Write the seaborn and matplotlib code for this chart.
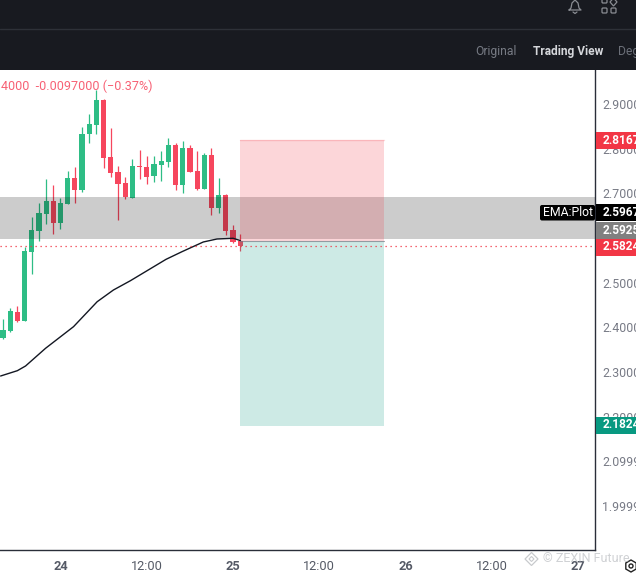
import matplotlib
matplotlib.use("Agg")
import matplotlib.pyplot as plt
import matplotlib.patches as mpatches
import pandas as pd
import seaborn as sns

# hourly candles, hour 0 = day 24 00:00
hours = list(range(-8, 26))
opens = [2.3769, 2.3918, 2.4343, 2.4149, 2.5686, 2.6157, 2.6537, 2.6828, 2.6336, 2.6761, 2.7343, 2.7075,
         2.8328, 2.8530, 2.9089, 2.7813, 2.7477, 2.7231, 2.6895, 2.7612, 2.7589, 2.7388, 2.7634, 2.7701,
         2.8082, 2.7186, 2.8015, 2.7500, 2.7097, 2.7858, 2.6671, 2.6962, 2.6179, 2.5933]
closes = [2.3940, 2.4366, 2.4149, 2.5709, 2.6179, 2.6559, 2.6828, 2.6336, 2.6783, 2.7343, 2.7075, 2.8328,
          2.8552, 2.9089, 2.7791, 2.7455, 2.7209, 2.6918, 2.7612, 2.7590, 2.7365, 2.7657, 2.7724, 2.8082,
          2.7186, 2.8015, 2.7477, 2.7097, 2.7858, 2.6671, 2.6962, 2.6157, 2.5910, 2.5821]
highs = [2.4186, 2.4433, 2.4478, 2.5806, 2.6477, 2.6783, 2.7321, 2.7186, 2.6895, 2.7500, 2.7589, 2.8485,
         2.8776, 2.9313, 2.9112, 2.8462, 2.7612, 2.7365, 2.7768, 2.7970, 2.7836, 2.7836, 2.7948, 2.8239,
         2.8127, 2.8172, 2.8082, 2.7948, 2.7903, 2.8015, 2.7343, 2.6985, 2.6291, 2.6089]
lows = [2.3739, 2.3895, 2.4127, 2.4149, 2.5194, 2.5933, 2.6313, 2.6089, 2.6201, 2.6761, 2.6783, 2.7030,
        2.8127, 2.8328, 2.7567, 2.7365, 2.6403, 2.6873, 2.6895, 2.7321, 2.7209, 2.7254, 2.7276, 2.7589,
        2.7075, 2.7007, 2.7477, 2.7075, 2.7097, 2.6515, 2.6559, 2.6067, 2.5888, 2.5709]

ema_hours = [-8.33, -6.0, -4.86, -2.08, 1.81, 5.1, 7.36, 9.72, 14.68, 16.9, 19.86, 21.76, 24, 25]
ema_prices = [2.2911, 2.3030, 2.3135, 2.3531, 2.4015, 2.4574, 2.4836, 2.5044, 2.5523, 2.5694, 2.5911, 2.5978,
              2.5994, 2.5944]

band_low, band_high = 2.5980, 2.6918
last_price = 2.5824
pos_hours = [25, 45]
pos_stop, pos_entry, pos_target = 2.8194, 2.5935, 2.1791

x_ticks = [0, 12, 24, 36, 48, 60, 72]
x_labels = ["24", "12:00", "25", "12:00", "26", "12:00", "27"]
y_ticks = [2.9, 2.8, 2.7, 2.6, 2.5, 2.4, 2.3, 2.2, 2.1, 2.0]
y_labels = ["2.9000", "2.8000", "2.7000", "2.6000", "2.5000", "2.4000", "2.3000", "2.2000", "2.0999", "1.9999"]

GREEN = "#2EBD85"
RED = "#F6465D"
DARK = "#181A20"
GRAY = "#787B86"

sns.set_theme(style="white")
plt.rcParams["font.family"] = ["Roboto", "DejaVu Sans"]

fig = plt.figure(figsize=(6.36, 5.75), dpi=100)
W, H = 636, 575

# main price pane, 0-595 px across and 70-550 px down
ax = fig.add_axes([0, (H - 550) / H, 595 / W, 480 / H])
candles = pd.DataFrame({"hour": hours, "open": opens, "close": closes, "high": highs, "low": lows})
candles["color"] = [GREEN if c >= o else RED for o, c in zip(opens, closes)]
candles["top"] = candles[["open", "close"]].max(axis=1)
candles["bottom"] = candles[["open", "close"]].min(axis=1)

ax.vlines(candles["hour"], candles["low"], candles["high"], colors=candles["color"], lw=0.9, zorder=2)
ax.bar(candles["hour"], (candles["top"] - candles["bottom"]).clip(lower=0.002), bottom=candles["bottom"],
       width=0.72, color=candles["color"], linewidth=0, zorder=3)

# position tool and the gray zone go over the candles
ax.axhspan(band_low, band_high, color="black", alpha=0.2, lw=0, zorder=4)
ax.fill_between(pos_hours, pos_entry, pos_stop, color="#F23645", alpha=0.2, lw=0, zorder=5)
ax.fill_between(pos_hours, pos_target, pos_entry, color="#089981", alpha=0.2, lw=0, zorder=5)
ax.plot(pos_hours, [pos_stop, pos_stop], color="#F23645", alpha=0.2, lw=1, zorder=5)
ax.plot(pos_hours, [pos_entry, pos_entry], color="#787B86", alpha=0.7, lw=0.8, zorder=6)

sns.lineplot(x=ema_hours, y=ema_prices, color="#131722", lw=1.0, ax=ax, zorder=6, estimator=None, sort=False)
ax.axhline(last_price, color="#F23645", lw=0.9, ls=(0, (1, 3)), zorder=6)

ax.set_xlim(-60.5 / 7.19, 534.5 / 7.19)
ax.set_ylim(1.9016, 2.9761)
ax.set_xticks(x_ticks)
ax.set_xticklabels(x_labels, fontsize=9.2, color="#555a66")
for lab in ax.get_xticklabels()[::2]:
    lab.set_fontweight("bold")
ax.yaxis.tick_right()
ax.set_yticks(y_ticks)
ax.set_yticklabels(y_labels, fontsize=8.9, color=GRAY, va="center_baseline")
ax.tick_params(axis="x", length=0, pad=7)
ax.tick_params(axis="y", length=0, pad=5)
sns.despine(ax=ax, top=True, left=True, right=False, bottom=False)
for side in ["right", "bottom"]:
    ax.spines[side].set_color("#2A2E39")
    ax.spines[side].set_linewidth(1)

ax.text(0.002, 0.965, "4000  -0.0097000 (\u22120.37%)", transform=ax.transAxes, fontsize=9.1,
        color=RED, alpha=0.85, va="center", zorder=7)

# overlay in pixel coordinates for the app chrome and price tags
ui = fig.add_axes([0, 0, 1, 1], facecolor="none")
ui.set_xlim(0, W)
ui.set_ylim(H, 0)
ui.axis("off")

ui.add_patch(mpatches.Rectangle((0, 0), W, 70, color=DARK, lw=0))
ui.plot([0, W], [29, 29], color="#2E3138", lw=1)

# bell
ui.plot([569, 571, 572, 575, 578, 579, 581, 569], [10, 8, 3, 0, 3, 8, 10, 10], color="#8A8D93", lw=0.9)
ui.plot([573, 575, 577], [12, 13.5, 12], color="#8A8D93", lw=0.9)
# layout icon
for x0, y0 in [(602, -2), (602, 8), (611, 8)]:
    ui.add_patch(mpatches.FancyBboxPatch((x0, y0), 5, 5, boxstyle="round,pad=0,rounding_size=1", fc="none",
                                         ec="#8A8D93", lw=0.9))
ui.add_patch(mpatches.Polygon([(613.5, -2), (617, 2), (613.5, 6), (610, 2)], fc="none", ec="#8A8D93", lw=0.9))

ui.text(475, 51, "Original", fontsize=8.7, color="#777B84", va="center")
ui.text(533, 51, "Trading View", fontsize=8.6, color="#D5D7DB", fontweight="bold", va="center")
ui.text(618, 51, "Deg", fontsize=8.7, color="#6B6F78", va="center")

# price tags at the right edge
tag_values = ["2.8167", "2.5967", "2.5925", "2.5824", "2.1824"]
tag_y = [140.5, 212.5, 230, 247, 425]
tag_colors = ["#F23645", "#000000", "#808080", "#F23645", "#089981"]
for value, y, color in zip(tag_values, tag_y, tag_colors):
    ui.add_patch(mpatches.Rectangle((596, y - 8.5), 40, 17, color=color, lw=0, zorder=3))
    ui.text(603, y, value, fontsize=8.6, color="white", fontweight="bold", va="center", zorder=4)

ui.add_patch(mpatches.FancyBboxPatch((540, 205), 55, 15.5, boxstyle="round,pad=0,rounding_size=2", fc="black", ec="none"))
ui.text(567.5, 212.8, "EMA:Plot", fontsize=8.8, color="white", ha="center", va="center")

# watermark and corner icon
ui.text(543, 559, "\u00a9 ZEXIN Future", fontsize=9.0, color="#B0B3B8", alpha=0.6, va="center", zorder=5)
ui.add_patch(mpatches.RegularPolygon((531.5, 559), 4, radius=6.5, fc="none", ec="#C8CACD", lw=0.9))
ui.add_patch(mpatches.RegularPolygon((531.5, 559), 4, radius=2.5, fc="none", ec="#C8CACD", lw=0.8))
ui.add_patch(mpatches.RegularPolygon((631, 566), 6, radius=6, fc="none", ec="#222222", lw=1))
ui.add_patch(mpatches.Circle((631, 566), 2, fc="none", ec="#222222", lw=1))

fig.savefig("out.png", dpi=100, facecolor="white")
